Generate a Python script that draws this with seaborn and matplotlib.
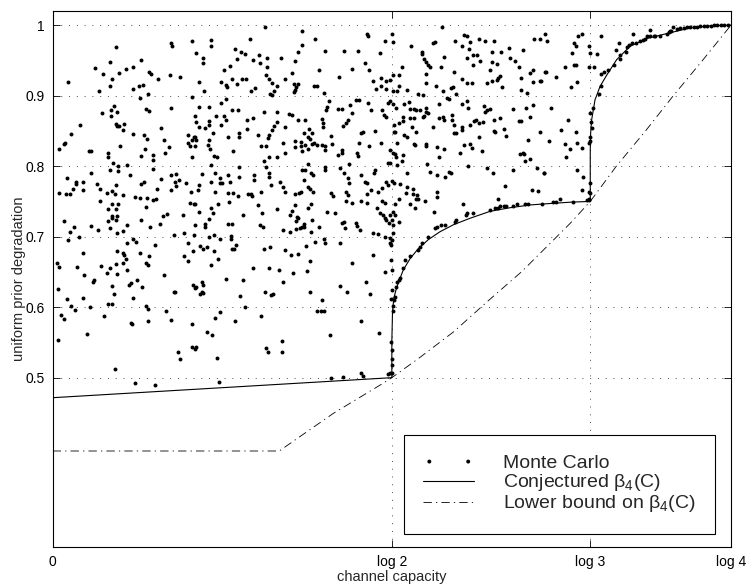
import numpy as np
import matplotlib
matplotlib.use("Agg")
import matplotlib.pyplot as plt
import seaborn as sns

# capacity values are given as a fraction of log 4 (nats), beta is the degradation

# Monte Carlo points: (C / log 4, beta)
mc_top_left = [
    (0.023, 0.920), (0.093, 0.969), (0.085, 0.948), (0.063, 0.939), (0.074, 0.931),
    (0.088, 0.924), (0.098, 0.932), (0.108, 0.938), (0.119, 0.941), (0.130, 0.951),
    (0.142, 0.934), (0.145, 0.931), (0.156, 0.923), (0.128, 0.914), (0.119, 0.910),
    (0.133, 0.915), (0.068, 0.907), (0.085, 0.914), (0.174, 0.974), (0.176, 0.971),
    (0.173, 0.929), (0.188, 0.926), (0.206, 0.977), (0.205, 0.898), (0.174, 0.883),
    (0.140, 0.902), (0.129, 0.897), (0.137, 0.881), (0.142, 0.878), (0.073, 0.875),
    (0.086, 0.871), (0.086, 0.879), (0.091, 0.885), (0.095, 0.877), (0.093, 0.860),
    (0.095, 0.857), (0.098, 0.857), (0.105, 0.860), (0.104, 0.851), (0.119, 0.846),
    (0.040, 0.859), (0.027, 0.845), (0.016, 0.832), (0.018, 0.833), (0.010, 0.825),
    (0.099, 0.829), (0.160, 0.854), (0.164, 0.837), (0.171, 0.827), (0.166, 0.818),
    (0.134, 0.844), (0.139, 0.838), (0.136, 0.824), (0.148, 0.816), (0.148, 0.809),
    (0.130, 0.815), (0.053, 0.822), (0.056, 0.821), (0.082, 0.819), (0.082, 0.813),
    (0.089, 0.805), (0.097, 0.800), (0.110, 0.802), (0.056, 0.791), (0.021, 0.783),
    (0.085, 0.795), (0.097, 0.793), (0.114, 0.787), (0.148, 0.796), (0.160, 0.782),
    (0.174, 0.787), (0.182, 0.789), (0.186, 0.780), (0.182, 0.772), (0.174, 0.766),
    (0.196, 0.776), (0.205, 0.837), (0.200, 0.833), (0.203, 0.829), (0.206, 0.813),
    (0.199, 0.844), (0.209, 0.842), (0.035, 0.777), (0.035, 0.774), (0.044, 0.778),
    (0.065, 0.775), (0.030, 0.767), (0.045, 0.766), (0.010, 0.762), (0.020, 0.761),
    (0.026, 0.761), (0.070, 0.768), (0.080, 0.762), (0.087, 0.765), (0.092, 0.761),
    (0.094, 0.773), (0.103, 0.759), (0.121, 0.756), (0.129, 0.755), (0.139, 0.755),
    (0.135, 0.777), (0.130, 0.775), (0.154, 0.767), (0.180, 0.777), (0.204, 0.764),
]

mc_top_mid = [
    (0.313, 0.998), (0.368, 0.992), (0.291, 0.981), (0.233, 0.979), (0.233, 0.971),
    (0.463, 0.988), (0.465, 0.985), (0.386, 0.981), (0.367, 0.972), (0.362, 0.962),
    (0.212, 0.961), (0.221, 0.953), (0.221, 0.947), (0.269, 0.966), (0.278, 0.962),
    (0.284, 0.959), (0.272, 0.952), (0.296, 0.950), (0.304, 0.957), (0.306, 0.946),
    (0.316, 0.953), (0.316, 0.941), (0.336, 0.954), (0.357, 0.949), (0.402, 0.964),
    (0.430, 0.964), (0.450, 0.963), (0.483, 0.960), (0.490, 0.978), (0.461, 0.947),
    (0.467, 0.936), (0.442, 0.938), (0.392, 0.937), (0.353, 0.932), (0.253, 0.937),
    (0.262, 0.942), (0.314, 0.929), (0.319, 0.923), (0.324, 0.918), (0.343, 0.923),
    (0.215, 0.920), (0.248, 0.919), (0.255, 0.915), (0.257, 0.912), (0.265, 0.923),
    (0.279, 0.924), (0.285, 0.924), (0.272, 0.917), (0.299, 0.911), (0.293, 0.907),
    (0.330, 0.913), (0.327, 0.907), (0.320, 0.902), (0.324, 0.901), (0.223, 0.907),
    (0.356, 0.917), (0.361, 0.917), (0.359, 0.912), (0.357, 0.908), (0.356, 0.905),
    (0.385, 0.914), (0.390, 0.914), (0.400, 0.904), (0.422, 0.927), (0.472, 0.921),
    (0.484, 0.925), (0.492, 0.921), (0.484, 0.914), (0.477, 0.909), (0.492, 0.909),
    (0.256, 0.895), (0.248, 0.890), (0.215, 0.884), (0.231, 0.884), (0.264, 0.879),
    (0.273, 0.880), (0.253, 0.871), (0.256, 0.865), (0.241, 0.871), (0.248, 0.859),
    (0.210, 0.871), (0.212, 0.863), (0.216, 0.856), (0.231, 0.864), (0.231, 0.858),
    (0.225, 0.854), (0.237, 0.847), (0.210, 0.842), (0.211, 0.837), (0.230, 0.837),
    (0.229, 0.830), (0.232, 0.824), (0.210, 0.828), (0.238, 0.814), (0.242, 0.813),
    (0.258, 0.842), (0.275, 0.847), (0.275, 0.841), (0.287, 0.852), (0.286, 0.866),
    (0.295, 0.868), (0.311, 0.877), (0.303, 0.844), (0.315, 0.829), (0.307, 0.829),
    (0.317, 0.840), (0.319, 0.844), (0.324, 0.851), (0.326, 0.857), (0.331, 0.863),
    (0.330, 0.877), (0.343, 0.856), (0.348, 0.874), (0.353, 0.872), (0.361, 0.866),
    (0.372, 0.865), (0.370, 0.847), (0.378, 0.852), (0.382, 0.847), (0.377, 0.842),
    (0.379, 0.838), (0.357, 0.836), (0.357, 0.827), (0.366, 0.834), (0.366, 0.828),
    (0.372, 0.830), (0.368, 0.822), (0.377, 0.825), (0.382, 0.831), (0.385, 0.833),
    (0.339, 0.833), (0.342, 0.819), (0.266, 0.821), (0.331, 0.813), (0.319, 0.813),
    (0.312, 0.807), (0.397, 0.867), (0.403, 0.880), (0.404, 0.884), (0.407, 0.893),
    (0.399, 0.861), (0.399, 0.855), (0.390, 0.830), (0.397, 0.830), (0.401, 0.828),
    (0.402, 0.823), (0.411, 0.843), (0.412, 0.832), (0.421, 0.881), (0.427, 0.881),
    (0.439, 0.887), (0.447, 0.894), (0.451, 0.894), (0.441, 0.875), (0.436, 0.865),
    (0.432, 0.861), (0.428, 0.857), (0.465, 0.890), (0.470, 0.880), (0.455, 0.847),
    (0.458, 0.849), (0.451, 0.833), (0.475, 0.850), (0.484, 0.833), (0.467, 0.828),
    (0.421, 0.816), (0.427, 0.818), (0.426, 0.823), (0.437, 0.803), (0.448, 0.818),
    (0.450, 0.815), (0.485, 0.880), (0.488, 0.873), (0.492, 0.870), (0.495, 0.890),
    (0.494, 0.804), (0.233, 0.802), (0.220, 0.789), (0.215, 0.773), (0.214, 0.766),
    (0.239, 0.791), (0.234, 0.778), (0.246, 0.783), (0.246, 0.776), (0.249, 0.776),
    (0.259, 0.788), (0.261, 0.777), (0.274, 0.799), (0.274, 0.785), (0.266, 0.762),
    (0.259, 0.762), (0.240, 0.764), (0.273, 0.758), (0.288, 0.761), (0.293, 0.761),
    (0.294, 0.757), (0.297, 0.788), (0.297, 0.781), (0.307, 0.764), (0.319, 0.790),
    (0.319, 0.785), (0.315, 0.799), (0.322, 0.773), (0.335, 0.777), (0.340, 0.771),
    (0.342, 0.764), (0.357, 0.761), (0.363, 0.762), (0.366, 0.763), (0.367, 0.795),
    (0.372, 0.795), (0.370, 0.781), (0.377, 0.803), (0.381, 0.790), (0.384, 0.788),
    (0.377, 0.771), (0.379, 0.767), (0.384, 0.763), (0.401, 0.795), (0.402, 0.799),
    (0.411, 0.762), (0.414, 0.757), (0.424, 0.797), (0.429, 0.790), (0.436, 0.783),
    (0.437, 0.776), (0.432, 0.764), (0.436, 0.759), (0.454, 0.787), (0.460, 0.778),
    (0.464, 0.776), (0.473, 0.791), (0.475, 0.794), (0.470, 0.766), (0.463, 0.761),
    (0.479, 0.764), (0.485, 0.769), (0.492, 0.778), (0.495, 0.773),
]

mc_top_right = [
    (0.574, 0.998), (0.606, 0.986), (0.611, 0.985), (0.500, 0.987), (0.501, 0.976),
    (0.528, 0.971), (0.561, 0.974), (0.563, 0.976), (0.593, 0.977), (0.615, 0.976),
    (0.604, 0.971), (0.628, 0.980), (0.637, 0.977), (0.651, 0.978), (0.614, 0.966),
    (0.710, 0.981), (0.544, 0.962), (0.545, 0.959), (0.547, 0.952), (0.550, 0.948),
    (0.554, 0.944), (0.556, 0.941), (0.577, 0.955), (0.611, 0.954), (0.620, 0.958),
    (0.625, 0.957), (0.630, 0.949), (0.647, 0.962), (0.661, 0.962), (0.673, 0.967),
    (0.674, 0.953), (0.682, 0.949), (0.693, 0.965), (0.647, 0.948), (0.655, 0.945),
    (0.620, 0.943), (0.645, 0.937), (0.688, 0.940), (0.708, 0.936), (0.704, 0.932),
    (0.515, 0.941), (0.511, 0.930), (0.501, 0.929), (0.497, 0.922), (0.551, 0.931),
    (0.572, 0.940), (0.592, 0.934), (0.603, 0.923), (0.611, 0.918), (0.618, 0.918),
    (0.641, 0.918), (0.647, 0.921), (0.655, 0.922), (0.657, 0.925), (0.660, 0.928),
    (0.662, 0.912), (0.690, 0.925), (0.708, 0.920), (0.691, 0.908), (0.699, 0.904),
    (0.550, 0.918), (0.565, 0.913), (0.587, 0.911), (0.590, 0.912), (0.575, 0.906),
    (0.595, 0.903), (0.502, 0.907), (0.507, 0.907), (0.522, 0.908), (0.510, 0.913),
    (0.539, 0.903), (0.546, 0.901), (0.497, 0.892), (0.501, 0.888), (0.506, 0.882),
    (0.518, 0.888), (0.526, 0.891), (0.527, 0.881), (0.532, 0.881), (0.536, 0.880),
    (0.542, 0.880), (0.551, 0.882), (0.551, 0.877), (0.554, 0.875), (0.546, 0.870),
    (0.548, 0.871), (0.570, 0.888), (0.582, 0.896), (0.585, 0.895), (0.603, 0.888),
    (0.611, 0.892), (0.613, 0.883), (0.636, 0.885), (0.637, 0.877), (0.640, 0.880),
    (0.644, 0.881), (0.698, 0.883), (0.708, 0.887), (0.678, 0.881), (0.517, 0.870),
    (0.517, 0.864), (0.527, 0.868), (0.532, 0.868), (0.510, 0.861), (0.503, 0.859),
    (0.503, 0.849), (0.505, 0.848), (0.529, 0.855), (0.536, 0.849), (0.561, 0.855),
    (0.570, 0.868), (0.576, 0.870), (0.577, 0.866), (0.588, 0.873), (0.589, 0.866),
    (0.592, 0.859), (0.592, 0.847), (0.595, 0.847), (0.604, 0.855), (0.604, 0.851),
    (0.615, 0.858), (0.621, 0.864), (0.624, 0.865), (0.629, 0.861), (0.635, 0.863),
    (0.650, 0.865), (0.660, 0.868), (0.651, 0.850), (0.652, 0.848), (0.666, 0.853),
    (0.668, 0.843), (0.628, 0.842), (0.687, 0.864), (0.690, 0.864), (0.703, 0.870),
    (0.701, 0.837), (0.518, 0.844), (0.522, 0.841), (0.507, 0.833), (0.534, 0.830),
    (0.532, 0.832), (0.550, 0.832), (0.551, 0.829), (0.567, 0.827), (0.570, 0.813),
    (0.577, 0.825), (0.601, 0.819), (0.607, 0.830), (0.615, 0.831), (0.618, 0.826),
    (0.633, 0.822), (0.689, 0.817), (0.693, 0.819), (0.695, 0.817), (0.696, 0.808),
    (0.703, 0.810), (0.497, 0.823), (0.501, 0.818), (0.505, 0.817), (0.506, 0.813),
    (0.517, 0.816), (0.515, 0.807), (0.497, 0.804), (0.507, 0.802), (0.522, 0.791),
    (0.552, 0.803), (0.556, 0.792), (0.566, 0.787), (0.578, 0.784), (0.585, 0.792),
    (0.587, 0.791), (0.613, 0.800), (0.640, 0.797), (0.649, 0.790), (0.678, 0.795),
    (0.714, 0.798), (0.667, 0.772), (0.706, 0.766), (0.715, 0.765), (0.500, 0.779),
    (0.503, 0.776), (0.512, 0.774), (0.522, 0.770), (0.521, 0.762), (0.531, 0.768),
    (0.531, 0.761), (0.537, 0.759), (0.539, 0.754), (0.536, 0.754), (0.567, 0.764),
    (0.567, 0.756), (0.510, 0.754), (0.657, 0.754),
]

mc_far_right = [
    (0.726, 0.988), (0.729, 0.978), (0.718, 0.980), (0.769, 0.974), (0.772, 0.971),
    (0.775, 0.984), (0.780, 0.988), (0.765, 0.960), (0.755, 0.940), (0.769, 0.943),
    (0.771, 0.944), (0.791, 0.970), (0.792, 0.961), (0.791, 0.940), (0.798, 0.940),
    (0.803, 0.959), (0.808, 0.984), (0.726, 0.933), (0.742, 0.926), (0.718, 0.921),
    (0.773, 0.920), (0.764, 0.912), (0.734, 0.882), (0.759, 0.866), (0.749, 0.851),
    (0.718, 0.849), (0.772, 0.848), (0.732, 0.836), (0.755, 0.831), (0.762, 0.824),
    (0.773, 0.833), (0.781, 0.826), (0.757, 0.813), (0.724, 0.790), (0.773, 0.795),
    (0.782, 0.785), (0.780, 0.766), (0.725, 0.790), (0.727, 0.933), (0.720, 0.921),
    (0.792, 0.875), (0.794, 0.863), (0.795, 0.854), (0.796, 0.883), (0.806, 0.902),
    (0.809, 0.914), (0.813, 0.933), (0.809, 0.931), (0.819, 0.936), (0.827, 0.944),
    (0.830, 0.965), (0.835, 0.974), (0.836, 0.952), (0.837, 0.958), (0.845, 0.962),
    (0.847, 0.969), (0.849, 0.972), (0.855, 0.988), (0.854, 0.974), (0.860, 0.974),
    (0.866, 0.977), (0.871, 0.979), (0.873, 0.981), (0.876, 0.984), (0.881, 0.993),
    (0.881, 0.984), (0.886, 0.985), (0.888, 0.985), (0.895, 0.985), (0.905, 0.988),
    (0.908, 0.990), (0.910, 0.991), (0.912, 0.992), (0.915, 0.997), (0.920, 0.995),
    (0.925, 0.996), (0.930, 0.996), (0.935, 0.997), (0.940, 0.997), (0.945, 0.998),
    (0.950, 0.998), (0.955, 0.999), (0.960, 0.999), (0.965, 0.999), (0.970, 0.999),
    (0.975, 1.000), (0.980, 1.000), (0.985, 1.000), (0.990, 1.000), (0.995, 1.000),
    (0.792, 0.842), (0.792, 0.835), (0.791, 0.833), (0.792, 0.776), (0.791, 0.764),
    (0.792, 0.762), (0.791, 0.754), (0.791, 0.752), (0.721, 0.746), (0.738, 0.749),
    (0.742, 0.749), (0.748, 0.753), (0.767, 0.749), (0.787, 0.752),
]

mc_mid_left = [
    (0.070, 0.750), (0.087, 0.747), (0.097, 0.747), (0.082, 0.739), (0.094, 0.739),
    (0.087, 0.729), (0.095, 0.730), (0.148, 0.752), (0.152, 0.753), (0.138, 0.742),
    (0.202, 0.748), (0.208, 0.747), (0.168, 0.732), (0.162, 0.729), (0.192, 0.731),
    (0.017, 0.722), (0.031, 0.714), (0.026, 0.707), (0.056, 0.715), (0.067, 0.709),
    (0.081, 0.722), (0.088, 0.727), (0.093, 0.723), (0.085, 0.712), (0.095, 0.705),
    (0.103, 0.708), (0.109, 0.717), (0.130, 0.724), (0.143, 0.713), (0.158, 0.718),
    (0.022, 0.695), (0.039, 0.699), (0.179, 0.703), (0.193, 0.705), (0.208, 0.703),
    (0.045, 0.677), (0.095, 0.680), (0.103, 0.677), (0.105, 0.674), (0.108, 0.669),
    (0.109, 0.691), (0.119, 0.696), (0.123, 0.693), (0.129, 0.677), (0.142, 0.673),
    (0.151, 0.688), (0.193, 0.673), (0.200, 0.691), (0.207, 0.680),
    (0.006, 0.663), (0.010, 0.657), (0.008, 0.626), (0.021, 0.611), (0.013, 0.589),
    (0.017, 0.583), (0.027, 0.602), (0.033, 0.596), (0.008, 0.553), (0.036, 0.657),
    (0.046, 0.646), (0.044, 0.613), (0.051, 0.562), (0.055, 0.600), (0.059, 0.636),
    (0.061, 0.638), (0.071, 0.658), (0.080, 0.648), (0.085, 0.655), (0.075, 0.587),
    (0.081, 0.605), (0.087, 0.604), (0.088, 0.630), (0.091, 0.618), (0.094, 0.661),
    (0.095, 0.647), (0.103, 0.663), (0.109, 0.653), (0.112, 0.632), (0.116, 0.634),
    (0.124, 0.638), (0.118, 0.613), (0.115, 0.577), (0.117, 0.576), (0.138, 0.662),
    (0.140, 0.660), (0.131, 0.629), (0.138, 0.602), (0.140, 0.598), (0.140, 0.580),
    (0.092, 0.512), (0.121, 0.493), (0.151, 0.489), (0.164, 0.646), (0.167, 0.594),
    (0.175, 0.582), (0.179, 0.622), (0.181, 0.622), (0.185, 0.537), (0.188, 0.526),
    (0.200, 0.665), (0.207, 0.631), (0.206, 0.576), (0.205, 0.544),
]

mc_mid_centre = [
    (0.210, 0.747), (0.216, 0.735), (0.234, 0.741), (0.237, 0.733), (0.243, 0.746),
    (0.230, 0.725), (0.224, 0.718), (0.225, 0.714), (0.210, 0.717), (0.260, 0.749),
    (0.302, 0.745), (0.309, 0.733), (0.280, 0.731), (0.259, 0.718), (0.264, 0.718),
    (0.306, 0.717), (0.310, 0.713), (0.331, 0.739), (0.357, 0.745), (0.353, 0.736),
    (0.350, 0.731), (0.360, 0.728), (0.362, 0.727), (0.358, 0.722), (0.371, 0.718),
    (0.367, 0.713), (0.370, 0.713), (0.365, 0.712), (0.376, 0.741), (0.381, 0.746),
    (0.382, 0.724), (0.392, 0.713), (0.404, 0.735), (0.340, 0.709), (0.350, 0.706),
    (0.358, 0.711), (0.381, 0.707), (0.230, 0.699), (0.238, 0.702), (0.246, 0.696),
    (0.263, 0.701), (0.263, 0.697), (0.217, 0.687), (0.221, 0.682), (0.228, 0.685),
    (0.238, 0.680), (0.243, 0.668), (0.233, 0.660), (0.265, 0.683), (0.268, 0.683),
    (0.270, 0.688), (0.311, 0.682), (0.320, 0.686), (0.343, 0.681), (0.351, 0.674),
    (0.362, 0.675), (0.373, 0.687), (0.387, 0.692), (0.400, 0.697), (0.401, 0.691),
    (0.380, 0.666), (0.296, 0.655), (0.319, 0.655), (0.334, 0.653), (0.355, 0.649),
    (0.375, 0.651), (0.255, 0.640), (0.281, 0.638), (0.340, 0.636), (0.210, 0.627),
    (0.212, 0.629), (0.220, 0.635), (0.221, 0.632), (0.217, 0.618), (0.220, 0.622),
    (0.221, 0.620), (0.313, 0.621), (0.322, 0.617), (0.325, 0.619), (0.379, 0.621),
    (0.276, 0.616), (0.283, 0.600), (0.397, 0.610), (0.389, 0.594), (0.396, 0.594),
    (0.400, 0.594), (0.246, 0.593), (0.240, 0.584), (0.269, 0.580), (0.307, 0.587),
    (0.227, 0.565), (0.235, 0.560), (0.212, 0.543), (0.210, 0.540), (0.242, 0.528),
    (0.314, 0.542), (0.317, 0.536), (0.338, 0.552), (0.338, 0.537), (0.245, 0.494),
]

mc_near_log2 = [
    (0.416, 0.733), (0.423, 0.691), (0.426, 0.719), (0.429, 0.721), (0.431, 0.712),
    (0.432, 0.750), (0.441, 0.748), (0.447, 0.719), (0.448, 0.715), (0.453, 0.710),
    (0.454, 0.751), (0.464, 0.748), (0.478, 0.740), (0.482, 0.733), (0.485, 0.750),
    (0.490, 0.748), (0.487, 0.731), (0.490, 0.726), (0.492, 0.724), (0.497, 0.731),
    (0.496, 0.719), (0.500, 0.724), (0.472, 0.705), (0.480, 0.704), (0.490, 0.700),
    (0.498, 0.698), (0.498, 0.691), (0.499, 0.688), (0.505, 0.747), (0.502, 0.735),
    (0.505, 0.731), (0.510, 0.721), (0.501, 0.717), (0.502, 0.705), (0.500, 0.695),
    (0.527, 0.747), (0.534, 0.740), (0.549, 0.751), (0.562, 0.735), (0.605, 0.747),
    (0.441, 0.663), (0.472, 0.674), (0.462, 0.636), (0.468, 0.618), (0.423, 0.630),
    (0.434, 0.621), (0.490, 0.650), (0.500, 0.653), (0.499, 0.667), (0.500, 0.624),
    (0.499, 0.612), (0.454, 0.580), (0.481, 0.564), (0.409, 0.561), (0.455, 0.507),
    (0.458, 0.503), (0.428, 0.501), (0.410, 0.500), (0.495, 0.505), (0.498, 0.506),
    (0.500, 0.507), (0.499, 0.551), (0.500, 0.539), (0.500, 0.527), (0.500, 0.518),
    (0.502, 0.594), (0.502, 0.601), (0.503, 0.610), (0.505, 0.615), (0.506, 0.629),
    (0.507, 0.636), (0.510, 0.639), (0.512, 0.641), (0.517, 0.656), (0.519, 0.667),
    (0.527, 0.672), (0.538, 0.681), (0.542, 0.686), (0.544, 0.691), (0.554, 0.700),
    (0.564, 0.712), (0.566, 0.714), (0.573, 0.717), (0.578, 0.717), (0.593, 0.721),
    (0.594, 0.724), (0.609, 0.731), (0.611, 0.733), (0.619, 0.733), (0.645, 0.738),
    (0.652, 0.740), (0.657, 0.741), (0.659, 0.743), (0.665, 0.744), (0.669, 0.744),
    (0.678, 0.744), (0.684, 0.746), (0.696, 0.746), (0.701, 0.746),
]

# conjectured beta_4(C)
conj_frac = [0.0, 0.5, 0.5, 0.501, 0.503, 0.506, 0.510, 0.517, 0.527, 0.539, 0.554,
             0.571, 0.591, 0.615, 0.645, 0.674, 0.704, 0.733, 0.765, 0.7925, 0.7925,
             0.7931, 0.7946, 0.7995, 0.8069, 0.8167, 0.8314, 0.8511, 0.8757, 0.9051,
             0.9395, 0.969, 1.0]
conj_beta = [0.4716, 0.500, 0.551, 0.594, 0.613, 0.624, 0.636, 0.653, 0.669, 0.683, 0.696,
             0.707, 0.717, 0.726, 0.736, 0.741, 0.745, 0.747, 0.749, 0.750, 0.823,
             0.847, 0.866, 0.894, 0.913, 0.929, 0.951, 0.970, 0.981, 0.988,
             0.996, 0.999, 1.0]

# lower bound on beta_4(C)
lb_frac = [0.0, 0.334, 0.414, 0.487, 0.5, 0.539, 0.591, 0.642, 0.691, 0.738, 0.763,
           0.7925, 0.831, 0.874, 0.915, 0.958, 1.0]
lb_beta = [0.396, 0.396, 0.4495, 0.492, 0.500, 0.527, 0.565, 0.609, 0.650, 0.695, 0.719,
           0.750, 0.800, 0.850, 0.900, 0.950, 1.0]

x_ticks = [0, np.log(2), np.log(3), np.log(4)]
x_tick_labels = ["0", "log 2", "log 3", "log 4"]
y_ticks = [0.5, 0.6, 0.7, 0.8, 0.9, 1.0]
y_tick_labels = ["0.5", "0.6", "0.7", "0.8", "0.9", "1"]

LOG4 = np.log(4)

mc_points = (mc_top_left + mc_top_mid + mc_top_right + mc_far_right
             + mc_mid_left + mc_mid_centre + mc_near_log2)
mc_cap = np.array([p[0] for p in mc_points]) * LOG4
mc_beta = np.array([p[1] for p in mc_points])

sns.set_style("ticks")
plt.rcParams["font.family"] = ["Liberation Sans", "DejaVu Sans"]
plt.rcParams["mathtext.fontset"] = "custom"
plt.rcParams["mathtext.rm"] = "Liberation Sans"
plt.rcParams["mathtext.it"] = "Liberation Sans"

fig = plt.figure(figsize=(7.46, 5.87), dpi=100)
ax = fig.add_axes([0.0706, 0.0687, 0.9093, 0.9126])

sns.scatterplot(x=mc_cap, y=mc_beta, color="k", s=8, linewidth=0,
                ax=ax, label="Monte Carlo", zorder=4)
sns.lineplot(x=np.array(conj_frac) * LOG4, y=conj_beta, sort=False, estimator=None,
             color="k", linewidth=0.8, ax=ax, label=r"Conjectured β$_4$(C)", zorder=3)
sns.lineplot(x=np.array(lb_frac) * LOG4, y=lb_beta, sort=False, estimator=None,
             color="k", linewidth=0.6, linestyle=(0, (10, 5, 1.5, 5)), ax=ax,
             label=r"Lower bound on β$_4$(C)", zorder=3)

ax.set_xlim(0, LOG4)
ax.set_ylim(0.2603, 1.0201)
ax.set_xticks(x_ticks)
ax.set_xticklabels(x_tick_labels)
ax.set_yticks(y_ticks)
ax.set_yticklabels(y_tick_labels)
ax.tick_params(direction="in", length=5, width=0.6, top=True, right=True,
               labelsize=10, colors="k")
ax.tick_params(axis="y", pad=6)
ax.tick_params(axis="x", pad=6)
ax.grid(True, color="0.3", linestyle=(0, (1, 7)), linewidth=0.7)
for sp in ax.spines.values():
    sp.set_linewidth(0.8)
    sp.set_color("k")

ax.set_xlabel("channel capacity", fontsize=10.5)
ax.set_ylabel("uniform prior degradation", fontsize=10.5)
ax.xaxis.set_label_coords(0.5, -0.043)
ax.yaxis.set_label_coords(-0.040, 0.5)

leg = ax.legend(loc="lower left", bbox_to_anchor=(0.518, 0.024), fontsize=14,
                scatterpoints=2, scatteryoffsets=[0.5], fancybox=False,
                framealpha=1, edgecolor="k", borderpad=1.0, labelspacing=0.0,
                handlelength=2.6, handletextpad=1.5, borderaxespad=0)
leg.get_frame().set_linewidth(0.8)

fig.savefig("out.png", dpi=100)
